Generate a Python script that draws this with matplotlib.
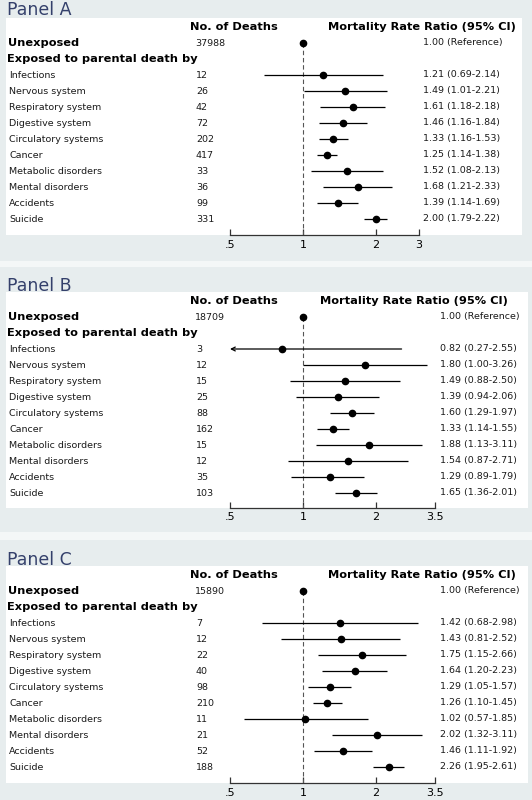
import matplotlib
matplotlib.use("Agg")
import numpy as np
import matplotlib.pyplot as plt
from matplotlib.patches import Rectangle

# causes of parental death (same rows in every panel)
causes = ['Infections', 'Nervous system', 'Respiratory system', 'Digestive system',
          'Circulatory systems', 'Cancer', 'Metabolic disorders', 'Mental disorders',
          'Accidents', 'Suicide']

# Panel A
a_unexposed = 37988
a_deaths = [12, 26, 42, 72, 202, 417, 33, 36, 99, 331]
a_rr = [1.21, 1.49, 1.61, 1.46, 1.33, 1.25, 1.52, 1.68, 1.39, 2.00]
a_lo = [0.69, 1.01, 1.18, 1.16, 1.16, 1.14, 1.08, 1.21, 1.14, 1.79]
a_hi = [2.14, 2.21, 2.18, 1.84, 1.53, 1.38, 2.13, 2.33, 1.69, 2.22]
a_ticks = [0.5, 1, 2, 3]

# Panel B
b_unexposed = 18709
b_deaths = [3, 12, 15, 25, 88, 162, 15, 12, 35, 103]
b_rr = [0.82, 1.80, 1.49, 1.39, 1.60, 1.33, 1.88, 1.54, 1.29, 1.65]
b_lo = [0.27, 1.00, 0.88, 0.94, 1.29, 1.14, 1.13, 0.87, 0.89, 1.36]
b_hi = [2.55, 3.26, 2.50, 2.06, 1.97, 1.55, 3.11, 2.71, 1.79, 2.01]
b_ticks = [0.5, 1, 2, 3.5]

# Panel C
c_unexposed = 15890
c_deaths = [7, 12, 22, 40, 98, 210, 11, 21, 52, 188]
c_rr = [1.42, 1.43, 1.75, 1.64, 1.29, 1.26, 1.02, 2.02, 1.46, 2.26]
c_lo = [0.68, 0.81, 1.15, 1.20, 1.05, 1.10, 0.57, 1.32, 1.11, 1.95]
c_hi = [2.98, 2.52, 2.66, 2.23, 1.57, 1.45, 1.85, 3.11, 1.92, 2.61]
c_ticks = [0.5, 1, 2, 3.5]

tick_text = {0.5: '.5', 1: '1', 2: '2', 3: '3', 3.5: '3.5'}

W, H = 532, 800
BG = '#e7edee'
TITLE_C = '#34406b'
plt.rcParams['font.family'] = ['DejaVu Sans']

fig = plt.figure(figsize=(W / 100, H / 100), dpi=100, facecolor=BG)

# lighter strips between panels
for y0, y1 in [(261, 267), (532, 540)]:
    fig.patches.append(Rectangle((0, 1 - y1 / H), 1, (y1 - y0) / H,
                                 transform=fig.transFigure, facecolor='#f4f7f7',
                                 edgecolor='none', zorder=-5))

# pixel scale: value 1 at x=303, 73 px per doubling
AX_L, AX_R = 6, 528
xmin = 2 ** ((AX_L - 303) / 73)
xmax = 2 ** ((AX_R - 303) / 73)


def panel(name, title_y, box_top, box_right, axis_y, unexposed, deaths, rr, lo, hi,
          ticks, rr_x, hdr_x, tick_y):
    fig.text(7 / W, 1 - title_y / H, name, fontsize=12.5, color=TITLE_C,
             ha='left', va='center')
    fig.patches.append(Rectangle((AX_L / W, 1 - axis_y / H), (box_right - AX_L) / W,
                                 (axis_y - box_top) / H, transform=fig.transFigure,
                                 facecolor='white', edgecolor='none', zorder=-5))
    ax = fig.add_axes([AX_L / W, 1 - axis_y / H, (AX_R - AX_L) / W, (axis_y - box_top) / H])
    ax.set_zorder(5)
    ax.set_facecolor('none')
    ax.set_xscale('log')
    ax.set_xlim(xmin, xmax)
    ax.set_ylim(axis_y, box_top)
    tr = ax.get_yaxis_transform()

    def fx(px):
        return (px - AX_L) / (AX_R - AX_L)

    y0 = box_top + 9
    rows = y0 + 16 * np.arange(13)

    ax.text(fx(190), rows[0], 'No. of Deaths', transform=tr, fontsize=8.2,
            fontweight='bold', va='center')
    ax.text(fx(hdr_x), rows[0], 'Mortality Rate Ratio (95% CI)', transform=tr,
            fontsize=8.2, fontweight='bold', va='center')
    ax.text(fx(8), rows[1], 'Unexposed', transform=tr, fontsize=8.2,
            fontweight='bold', va='center')
    ax.text(fx(195), rows[1], str(unexposed), transform=tr, fontsize=6.8,
            va='center', color='#1a1a1a')
    ax.text(fx(rr_x), rows[1], '1.00 (Reference)', transform=tr, fontsize=6.8,
            va='center', color='#1a1a1a')
    ax.text(fx(7), rows[2], 'Exposed to parental death by', transform=tr,
            fontsize=8.2, fontweight='bold', va='center')

    ax.vlines(1, rows[1], axis_y, colors='#555555', linestyles=(0, (4, 2.5)), lw=0.8)
    ax.plot([1], [rows[1]], 'o', color='black', ms=4.5)

    for i, cause in enumerate(causes):
        y = rows[3 + i]
        ax.text(fx(9), y, cause, transform=tr, fontsize=6.8, va='center', color='#1a1a1a')
        ax.text(fx(196), y, str(deaths[i]), transform=tr, fontsize=6.8, va='center',
                color='#1a1a1a')
        ax.text(fx(rr_x), y, f'{rr[i]:.2f} ({lo[i]:.2f}-{hi[i]:.2f})', transform=tr,
                fontsize=6.8, va='center', color='#1a1a1a')
        if lo[i] < ticks[0]:
            ax.annotate('', xy=(ticks[0], y), xytext=(hi[i], y),
                        arrowprops=dict(arrowstyle='->', lw=0.9, color='black',
                                        shrinkA=0, shrinkB=0, mutation_scale=7))
        else:
            ax.hlines(y, lo[i], hi[i], colors='black', lw=0.9)
        ax.plot([rr[i]], [y], 'o', color='black', ms=4.5, zorder=3)

    for s in ['top', 'left', 'right']:
        ax.spines[s].set_visible(False)
    ax.spines['bottom'].set_bounds(ticks[0], ticks[-1])
    ax.spines['bottom'].set_color('#333333')
    ax.spines['bottom'].set_linewidth(0.9)
    ax.set_yticks([])
    ax.set_xticks(ticks)
    ax.set_xticks([], minor=True)
    ax.set_xticklabels([tick_text[t] for t in ticks], fontsize=8)
    ax.tick_params(axis='x', direction='in', length=4, width=0.9, color='#333333',
                   pad=(tick_y - axis_y - 5.5) * 0.72)


panel('Panel A', 10, 18, 522, 235, a_unexposed, a_deaths, a_rr, a_lo, a_hi,
      a_ticks, 423, 328, 245)
panel('Panel B', 286, 292, 528, 508, b_unexposed, b_deaths, b_rr, b_lo, b_hi,
      b_ticks, 440, 320, 518)
panel('Panel C', 560, 566, 528, 783, c_unexposed, c_deaths, c_rr, c_lo, c_hi,
      c_ticks, 440, 328, 793)

fig.savefig('out.png', dpi=100, facecolor=BG)
